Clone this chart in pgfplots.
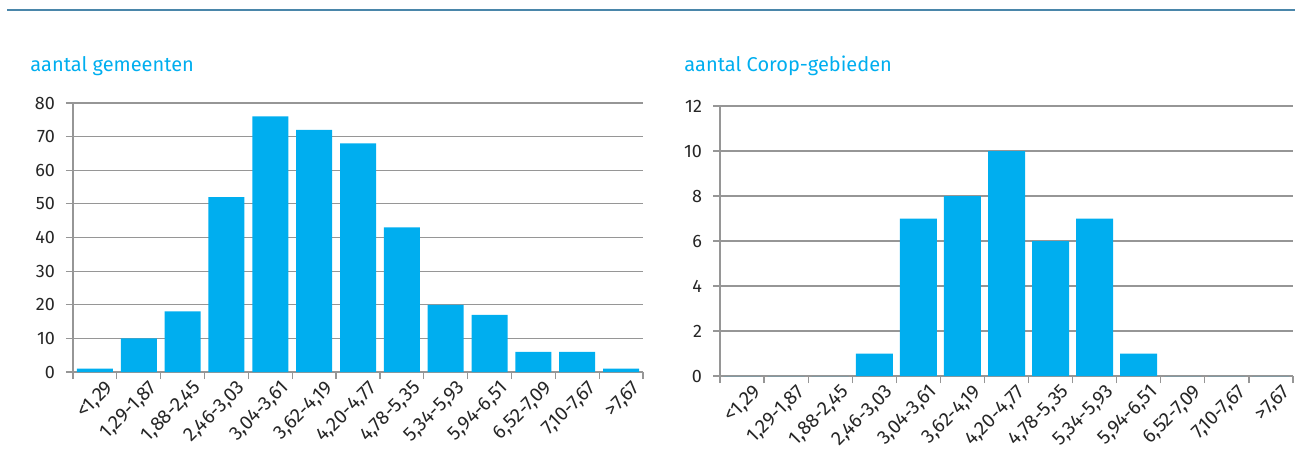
\documentclass[border=0pt]{standalone}
\usepackage{fontspec}
\setmainfont{Fira Sans}
\usepackage{pgfplots}
\pgfplotsset{compat=1.18}
\definecolor{barblue}{RGB}{0,174,239}
\definecolor{rulecol}{RGB}{74,134,170}
\definecolor{gridgray}{RGB}{150,150,150}
\pgfplotsset{mybar/.style={
  scale only axis,
  axis x line*=bottom, axis y line*=left,
  xmin=-0.5, xmax=12.5, ymin=0,
  xtick={0,...,12},
  xticklabels={{<1,29},{1,29-1,87},{1,88-2,45},{2,46-3,03},{3,04-3,61},{3,62-4,19},{4,20-4,77},{4,78-5,35},{5,34-5,93},{5,94-6,51},{6,52-7,09},{7,10-7,67},{>7,67}},
  minor xtick={-0.5,0.5,...,12.5},
  major x tick style={draw=none},
  minor x tick style={draw=gridgray, line width=0.6pt},
  tick align=outside, major tick length=3.5pt, minor tick length=3.5pt,
  ymajorgrids, grid style={gridgray, line width=0.6pt},
  axis line style={gridgray, line width=0.6pt},
  y tick style={gridgray, line width=0.6pt},
  xticklabel style={rotate=45, anchor=north east, font=\fontsize{9.8}{10}\selectfont, inner sep=0.5pt, yshift=-3pt, xshift=4pt, text=black!85},
  yticklabel style={font=\fontsize{9}{10}\selectfont, xshift=-2pt, text=black!85},
  /pgf/number format/assume math mode=true,
  ybar,
}}
\begin{document}
\begin{tikzpicture}
\path[use as bounding box] (0,0) rectangle (647.5pt,236.5pt);
\draw[rulecol, line width=1pt] (3.5pt,231.5pt) -- (647.5pt,231.5pt);
\node[anchor=base west, text=barblue, font=\fontsize{10}{12}\selectfont, inner sep=0pt] at (15pt,201pt) {aantal gemeenten};
\node[anchor=base west, text=barblue, font=\fontsize{10}{12}\selectfont, inner sep=0pt] at (342pt,201pt) {aantal Corop-gebieden};
\begin{axis}[mybar, at={(36.5pt,50.5pt)}, anchor=south west, width=285pt, height=134.5pt,
  ymax=80, ytick={0,10,...,80}, bar width=18pt]
\addplot[fill=barblue, draw=none] coordinates {(0,1) (1,10) (2,18) (3,52) (4,76) (5,72) (6,68) (7,43) (8,20) (9,17) (10,6) (11,6) (12,1)};
\end{axis}
\begin{axis}[mybar, at={(360pt,48.5pt)}, anchor=south west, width=286.5pt, height=135pt,
  ymax=12, ytick={0,2,...,12}, bar width=18.5pt]
\addplot[fill=barblue, draw=none] coordinates {(0,0) (1,0) (2,0) (3,1) (4,7) (5,8) (6,10) (7,6) (8,7) (9,1) (10,0) (11,0) (12,0)};
\end{axis}
\end{tikzpicture}
\end{document}
